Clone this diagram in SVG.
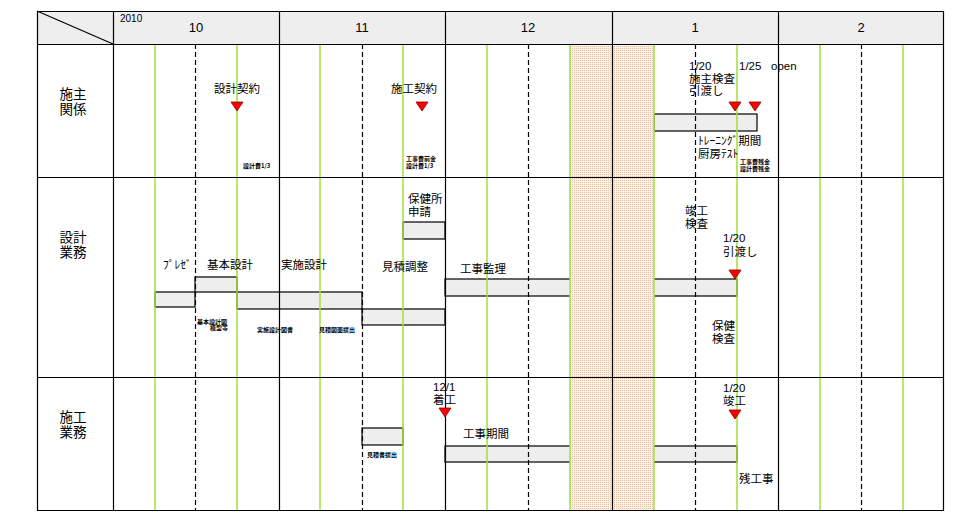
<svg xmlns="http://www.w3.org/2000/svg" width="980" height="520" viewBox="0 0 980 520">
<style>
.bg{fill:#ffffff}
.hdr{fill:#eeeeee}
.ln{stroke:#000;stroke-width:1.2;fill:none}
.grn{stroke:#a3e03a;stroke-width:1.5;fill:none}
.dsh{stroke:#000;stroke-width:1.2;stroke-dasharray:5 3;fill:none}
.bar{fill:#eeeeee;stroke:#000;stroke-width:1.2}
.tri{fill:#ff0000;stroke:#8a0000;stroke-width:0.8}
.t{font-family:"Noto Sans CJK JP","Liberation Sans",sans-serif;font-size:11.5px;fill:#000}
.d{font-family:"Liberation Sans","Noto Sans CJK JP",sans-serif;font-size:11.5px;fill:#000}
.m{font-family:"Liberation Sans",sans-serif;font-size:13px;fill:#000;text-anchor:middle}
.y{font-family:"Liberation Sans",sans-serif;font-size:10px;fill:#000}
.r{font-family:"Noto Sans CJK JP","Liberation Sans",sans-serif;font-size:13.5px;fill:#000;text-anchor:middle}
.s{font-family:"Noto Sans CJK JP","Liberation Sans",sans-serif;font-size:6px;font-weight:bold;fill:#000}
.n{font-family:"Liberation Sans","Noto Sans CJK JP",sans-serif}
</style>
<defs>
<pattern id="dots" width="2" height="2" patternUnits="userSpaceOnUse">
<rect width="2" height="2" fill="#fbf1e8"/>
<rect width="1" height="1" fill="#e3bfa3"/>
</pattern>
</defs>
<rect class="bg" x="0" y="0" width="980" height="520"/>
<rect class="hdr" x="37" y="11" width="907" height="33"/>

<g id="bars">
<rect class="bar" x="654" y="114" width="103" height="17"/>
<rect class="bar" x="195" y="277" width="42" height="15"/>
<rect class="bar" x="155" y="292" width="40" height="15"/>
<rect class="bar" x="237" y="292" width="125" height="17"/>
<rect class="bar" x="362" y="309" width="83" height="16"/>
<rect class="bar" x="403" y="222" width="42" height="17"/>
<rect class="bar" x="445" y="279" width="140" height="17"/>
<rect class="bar" x="640" y="279" width="97" height="17"/>
<rect class="bar" x="362" y="428" width="41" height="17"/>
<rect class="bar" x="445" y="446" width="140" height="16"/>
<rect class="bar" x="640" y="446" width="97" height="16"/>
</g>

<rect id="holiday" x="570" y="44" width="84" height="467" fill="url(#dots)"/>

<g id="connectors">
<path class="grn" d="M155 44V511M237 44V511M320 44V511M403 44V511M487 44V511M570 44V511M654 44V511M737 44V511M820 44V511M903 44V511"/>
<path class="dsh" d="M195.5 44V511M362.5 44V511M528.5 44V511M695.5 44V511M861.5 44V511"/>
<path class="ln" d="M37 11.5H944M37 44.5H944M37 177.5H944M37 377.5H944M37 510.5H944"/>
<path class="ln" d="M37.5 11V511M113.5 11V511M279.5 11V511M445.5 11V511M612.5 11V511M778.5 11V511M943.5 11V511"/>
<path class="ln" d="M37 11L113 44"/>
</g>

<g id="header">
<text class="y" x="120" y="22">2010</text>
<text class="m" x="196" y="32">10</text>
<text class="m" x="362" y="32">11</text>
<text class="m" x="528" y="32">12</text>
<text class="m" x="695" y="32">1</text>
<text class="m" x="861" y="32">2</text>
</g>

<g id="row-owner">
<text class="r" x="73" y="99">施主<tspan x="73" dy="15">関係</tspan></text>
</g>
<g id="row-design">
<text class="r" x="73" y="242">設計<tspan x="73" dy="15">業務</tspan></text>
</g>
<g id="row-construction">
<text class="r" x="73" y="422">施工<tspan x="73" dy="15">業務</tspan></text>
</g>

<g id="design-contract">
<text class="t" x="237" y="93" text-anchor="middle">設計契約</text>
<polygon class="tri" points="231,102 243,102 237,111"/>
<text class="s" x="243" y="168">設計費1/3</text>
</g>
<g id="construction-contract">
<text class="t" x="414" y="93" text-anchor="middle">施工契約</text>
<polygon class="tri" points="416,102 428,102 422,111"/>
<text class="s" x="406" y="161">工事費前金<tspan x="406" dy="7">設計費1/3</tspan></text>
</g>
<g id="handover-owner">
<text class="t" x="689" y="70"><tspan class="n">1/20</tspan><tspan x="689" dy="13">施主検査</tspan><tspan x="689" dy="12">引渡し</tspan></text>
<text class="d" x="739" y="70">1/25<tspan x="771">open</tspan></text>
<polygon class="tri" points="729,102 741,102 735,111"/>
<polygon class="tri" points="749,102 761,102 755,111"/>
<text class="t" x="698" y="145">ﾄﾚｰﾆﾝｸﾞ期間<tspan x="698" dy="13">厨房ﾃｽﾄ</tspan></text>
<text class="s" x="740" y="164">工事費残金<tspan x="740" dy="7">設計費残金</tspan></text>
</g>

<g id="design-tasks">
<text class="t" x="163" y="269">ﾌﾟﾚｾﾞ</text>
<text class="t" x="207" y="269">基本設計</text>
<text class="t" x="281" y="269">実施設計</text>
<text class="t" x="408" y="203">保健所<tspan x="408" dy="13">申請</tspan></text>
<text class="t" x="382" y="271">見積調整</text>
<text class="t" x="460" y="273">工事監理</text>
<text class="s" x="197" y="324">基本設計図<tspan x="210" dy="6">模型等</tspan></text>
<text class="s" x="257" y="332">実施設計図書</text>
<text class="s" x="319" y="332">見積図面提出</text>
</g>
<g id="design-handover">
<text class="t" x="685" y="215">竣工<tspan x="685" dy="13">検査</tspan></text>
<text class="t" x="723" y="242"><tspan class="n">1/20</tspan><tspan x="723" dy="14">引渡し</tspan></text>
<polygon class="tri" points="729,270 741,270 735,279"/>
<text class="t" x="712" y="330">保健<tspan x="712" dy="13">検査</tspan></text>
</g>

<g id="construction-tasks">
<text class="t" x="433" y="391"><tspan class="n">12/1</tspan><tspan x="433" dy="13">着工</tspan></text>
<polygon class="tri" points="439,408 451,408 445,417"/>
<text class="s" x="367" y="457">見積書提出</text>
<text class="t" x="463" y="438">工事期間</text>
<text class="t" x="723" y="392"><tspan class="n">1/20</tspan><tspan x="723" dy="13">竣工</tspan></text>
<polygon class="tri" points="729,410 741,410 735,419"/>
<text class="t" x="739" y="483">残工事</text>
</g>
</svg>
